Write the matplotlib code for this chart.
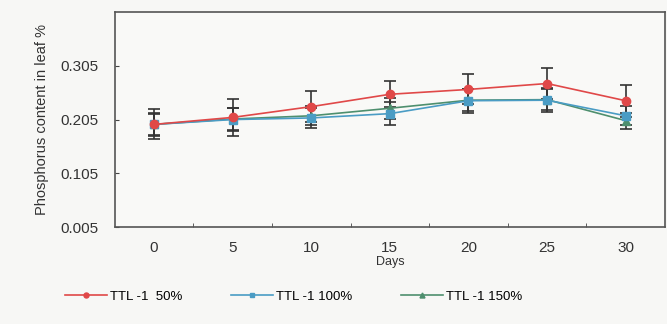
import numpy as np
import matplotlib.pyplot as plt

days = [0, 5, 10, 15, 20, 25, 30]
p_50 = [0.196, 0.209, 0.229, 0.252, 0.261, 0.272, 0.240]
p_100 = [0.196, 0.205, 0.208, 0.216, 0.240, 0.241, 0.212]
p_150 = [0.196, 0.206, 0.212, 0.226, 0.241, 0.242, 0.203]
err_50 = [0.028, 0.035, 0.029, 0.024, 0.028, 0.029, 0.030]
err_100 = [0.022, 0.021, 0.018, 0.022, 0.022, 0.022, 0.018]
err_150 = [0.020, 0.020, 0.018, 0.020, 0.020, 0.020, 0.015]
labels = ["TTL -1  50%", "TTL -1 100%", "TTL -1 150%"]

plt.rcParams['font.family'] = ['Liberation Sans', 'DejaVu Sans']

fig = plt.figure(figsize=(6.67, 3.24), dpi=100, facecolor='#f7f7f5')
ax = fig.add_axes([0.172, 0.299, 0.825, 0.664])
ax.set_facecolor('#f9f9f7')

x = np.arange(len(days))
series = [
    (p_150, err_150, '#4e8f6e', '^', labels[2]),
    (p_100, err_100, '#4a9cc4', 's', labels[1]),
    (p_50, err_50, '#e04848', 'o', labels[0]),
]
handles = {}
for vals, err, col, mk, lab in series:
    ax.errorbar(x, vals, yerr=err, fmt='none', ecolor='#333333',
                elinewidth=1.2, capsize=4, capthick=1.2, zorder=2)
    h, = ax.plot(x, vals, color=col, lw=1.2, marker=mk, ms=6,
                 mec=col, mfc=col, label=lab, zorder=3)
    handles[lab] = h

ax.set_xlim(-0.5, 6.5)
ax.set_ylim(0.005, 0.405)
ax.set_xticks(x)
ax.set_xticklabels([str(d) for d in days], fontsize=11, color='#333333')
ax.set_xticks(np.arange(0.5, 6, 1), minor=True)
ax.set_yticks([0.005, 0.105, 0.205, 0.305])
ax.set_yticklabels(['0.005', '0.105', '0.205', '0.305'], fontsize=11,
                   color='#333333')
ax.tick_params(axis='x', which='major', length=0, pad=10)
ax.tick_params(axis='x', which='minor', length=3, direction='in',
               color='#444444')
ax.tick_params(axis='y', length=3, direction='in', color='#444444', pad=12)
for s in ax.spines.values():
    s.set_color('#555555')
    s.set_linewidth(1.2)

ax.set_xlabel('Days', fontsize=9, color='#333333', labelpad=1)
ax.set_ylabel('Phosphorus content in leaf %', fontsize=10.5, color='#333333',
              labelpad=8)

fig.legend([handles[l] for l in labels], labels, loc='center',
           bbox_to_anchor=(0.44, 0.085), ncol=3, frameon=False, fontsize=9.5,
           handlelength=3.2, handletextpad=0.2, columnspacing=3.7,
           markerscale=0.6)

fig.savefig('out.png', dpi=100, facecolor=fig.get_facecolor())
